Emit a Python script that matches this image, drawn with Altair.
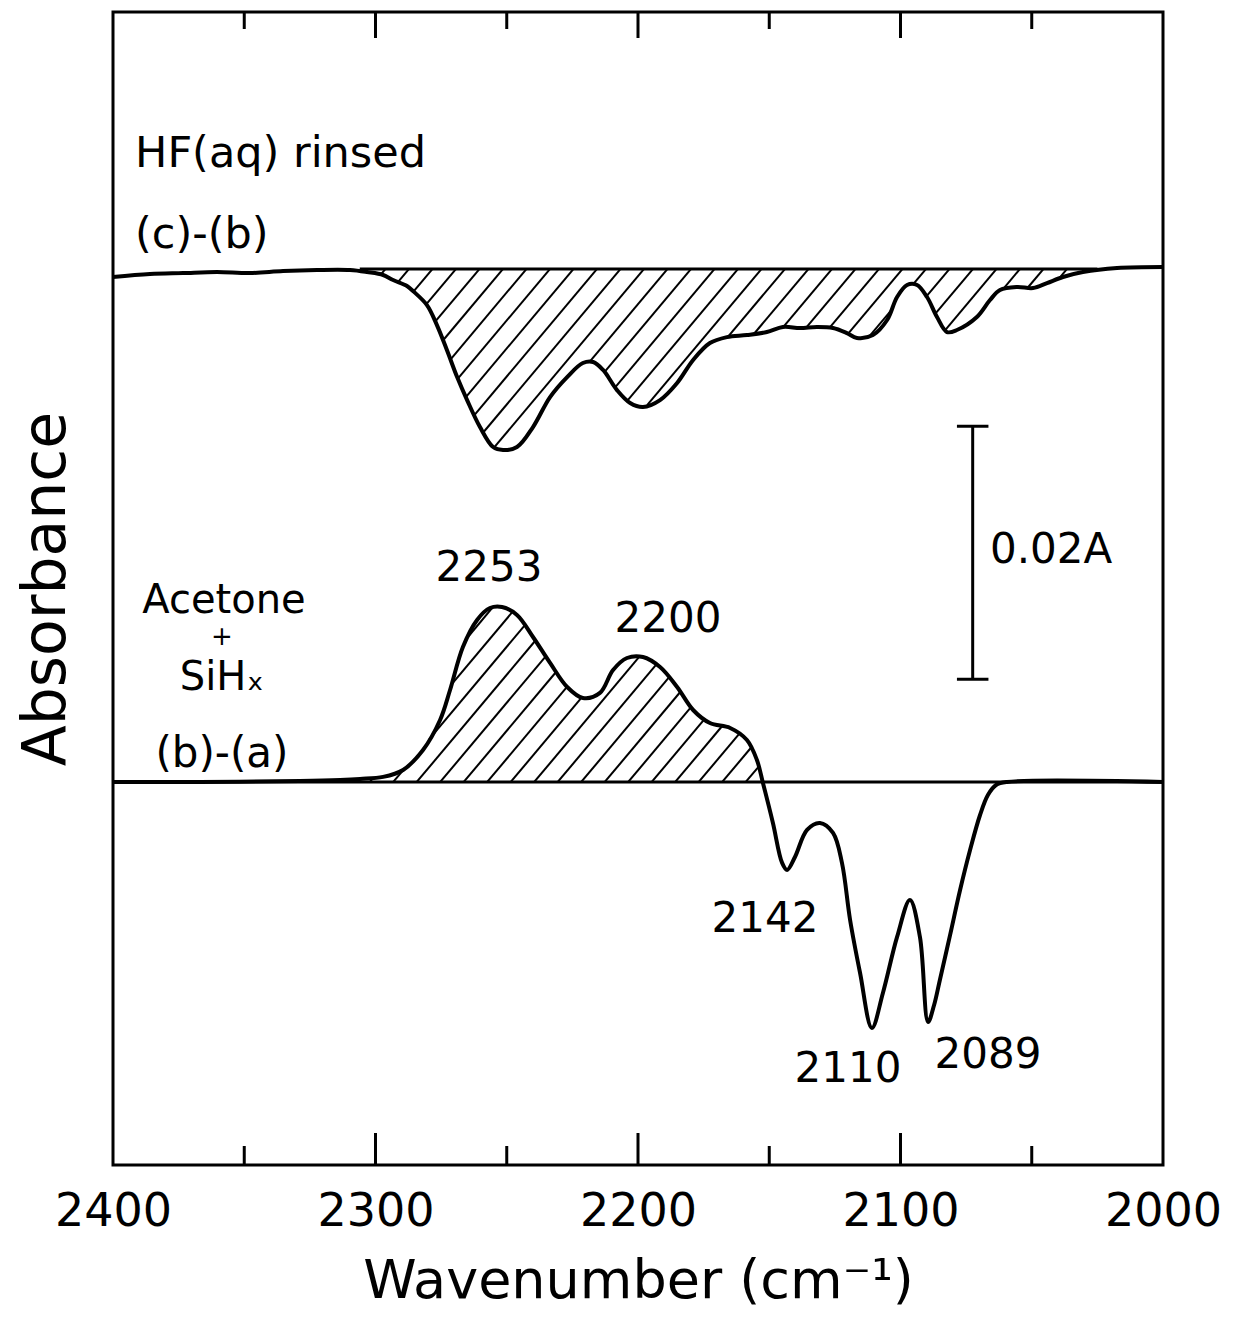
import numpy as np
import pandas as pd
import altair as alt

# ---------------- data ----------------
# wavenumber (cm-1) and absorbance change (A) relative to each trace's own baseline
BOTTOM_W = [2400, 2366.9, 2328.8, 2313.5, 2305.9, 2297.1, 2289.5, 2281.9, 2275.4, 2271.6,
            2266.7, 2261.3, 2256.4, 2251.8, 2246.1, 2240.0, 2233.5, 2227.0, 2221.0, 2214.5,
            2209.5, 2204.2, 2198.1, 2191.6, 2185.1, 2179.0, 2172.6, 2164.9, 2158.5, 2154.7,
            2152.4, 2148.6, 2145.1, 2143.2, 2140.2, 2135.6, 2130.7, 2125.7, 2122.3, 2119.2,
            2115.4, 2110.9, 2106.7, 2101.3, 2096.4, 2092.6, 2089.5, 2087.2, 2085.0, 2081.1,
            2077.3, 2073.5, 2069.7, 2066.7, 2063.6, 2059.4, 2000]
BOTTOM_A = [0.0, 0.0, 0.00008, 0.00016, 0.00024, 0.0004, 0.00095, 0.00253, 0.0049, 0.00727,
            0.01067, 0.01281, 0.01375, 0.01383, 0.0132, 0.01146, 0.00941, 0.00751, 0.00664, 0.00704,
            0.00885, 0.0098, 0.00988, 0.00909, 0.00751, 0.00569, 0.00466, 0.00427, 0.00332, 0.00174,
            -0.00008, -0.00324, -0.0064, -0.00696, -0.00593, -0.00379, -0.00324, -0.00403, -0.0064, -0.01091,
            -0.0151, -0.01945, -0.01668, -0.01225, -0.00933, -0.01225, -0.01897, -0.01763, -0.01565, -0.01209,
            -0.00854, -0.00538, -0.00261, -0.00103, -0.00024, 0.0, 0.0]

TOP_W = [2400, 2385.9, 2373.3, 2360.4, 2347.8, 2335.2, 2322.3, 2309.7, 2303.2, 2297.1,
         2293.3, 2288.0, 2285.7, 2280.4, 2276.6, 2272.8, 2268.9, 2265.1, 2260.2, 2255.2,
         2251.4, 2246.1, 2240.0, 2233.5, 2227.0, 2221.0, 2217.1, 2213.3, 2208.0, 2203.0,
         2198.1, 2191.6, 2185.1, 2179.0, 2172.6, 2166.1, 2158.5, 2150.9, 2144.8, 2138.3,
         2131.8, 2125.7, 2120.4, 2116.6, 2110.5, 2105.1, 2101.3, 2097.5, 2093.7, 2089.9,
         2086.1, 2082.3, 2078.5, 2070.9, 2065.9, 2062.1, 2055.6, 2049.5, 2044.2, 2038.1,
         2030.5, 2017.5, 2000]
TOP_A = [-0.00063, -0.0004, -0.00032, -0.00024, -0.00032, -0.00016, -0.00008, -0.00008, -0.00024, -0.00047,
         -0.00087, -0.00134, -0.00174, -0.00285, -0.00443, -0.0064, -0.00854, -0.01036, -0.01249, -0.01407,
         -0.01431, -0.01407, -0.01249, -0.01012, -0.00854, -0.00743, -0.00735, -0.00798, -0.00957, -0.01059,
         -0.01091, -0.01036, -0.00901, -0.00719, -0.00585, -0.00538, -0.00522, -0.00498, -0.00458, -0.00466,
         -0.00458, -0.00466, -0.00506, -0.00545, -0.00522, -0.00403, -0.00221, -0.00126, -0.00126, -0.00221,
         -0.00379, -0.00498, -0.00482, -0.00379, -0.00245, -0.00166, -0.00142, -0.0015, -0.00111, -0.00063,
         -0.00024, 0.00008, 0.00016]

X_LABEL_VALUES = [2400, 2300, 2200, 2100, 2000]
INNER_TICKS_MAJOR = [2300, 2200, 2100]
INNER_TICKS_MINOR = [2350, 2250, 2150, 2050]

# trace offsets / scale bar (absorbance units)
OFFSET_TOP = 0.07083
OFFSET_BOTTOM = 0.03028
SCALEBAR_W = 2072.5
SCALEBAR_LOW = 0.0384
SCALEBAR_LEN = 0.02
SCALEBAR_CAP = 6.0

# hatched ranges (cm-1)
TOP_HATCH = (2025, 2305)
BOTTOM_HATCH = (2150, 2302)
TOP_BASELINE = (2025, 2306)

# annotations: text, wavenumber, absorbance (baseline), font size
ANN_LEFT = [
    ("HF(aq) rinsed", 2391.6, 0.0789, 43),
    ("(c)-(b)", 2391.6, 0.0725, 43),
    ("0.02A", 2065.9, 0.0476, 42),
]
ANN_CENTER = [
    ("Acetone", 2357.7, 0.0436, 40),
    ("+", 2358.5, 0.04111, 26),
    ("SiH\u2093", 2358.5, 0.03755, 40),
    ("(b)-(a)", 2358.5, 0.0315, 42),
    ("2253", 2256.8, 0.0462, 42),
    ("2200", 2188.6, 0.0421, 42),
    ("2142", 2151.6, 0.0184, 42),
    ("2110", 2120.0, 0.0066, 42),
    ("2089", 2066.7, 0.0077, 42),
]

# ---------------- layout ----------------
W, H = 1050, 1153
Y_MAX = 0.09115
X_MIN, X_MAX = 2000, 2400
PX_PER_W = W / (X_MAX - X_MIN)
PX_PER_A = H / Y_MAX
HATCH_SPACING = 23.5
HATCH_ANGLE = 50.0
FONT = "DejaVu Sans"


def hatch_segments(ws, vals, w_lo, w_hi, sign, offset):
    ws = np.asarray(ws, float)
    vals = np.asarray(vals, float)
    X = (X_MAX - ws) * PX_PER_W
    Y = vals * PX_PER_A
    tanv = np.tan(np.radians(HATCH_ANGLE))
    x_lo = (X_MAX - w_hi) * PX_PER_W
    x_hi = (X_MAX - w_lo) * PX_PER_W
    xs = np.arange(x_lo, x_hi, 0.25)
    f = np.interp(xs, X, Y)
    segs = []
    for c in np.arange(x_lo - 400, x_hi + 400, HATCH_SPACING):
        yl = (xs - c) * tanv
        if sign > 0:
            inside = (yl >= 0) & (yl <= f)
        else:
            inside = (yl <= 0) & (yl >= f)
        if not inside.any():
            continue
        m = np.concatenate([[0], inside.astype(int), [0]])
        d = np.diff(m)
        starts = np.where(d == 1)[0]
        ends = np.where(d == -1)[0] - 1
        for s, e in zip(starts, ends):
            if xs[e] - xs[s] < 1.0:
                continue
            segs.append({
                "w": X_MAX - xs[s] / PX_PER_W, "a": yl[s] / PX_PER_A + offset,
                "w2": X_MAX - xs[e] / PX_PER_W, "a2": yl[e] / PX_PER_A + offset,
            })
    return segs


hatch = pd.DataFrame(
    hatch_segments(TOP_W, TOP_A, TOP_HATCH[0], TOP_HATCH[1], -1, OFFSET_TOP)
    + hatch_segments(BOTTOM_W, BOTTOM_A, BOTTOM_HATCH[0], BOTTOM_HATCH[1], 1, OFFSET_BOTTOM)
)

traces = pd.concat([
    pd.DataFrame({"w": TOP_W, "a": np.array(TOP_A) + OFFSET_TOP, "series": "top",
                  "i": range(len(TOP_W))}),
    pd.DataFrame({"w": BOTTOM_W, "a": np.array(BOTTOM_A) + OFFSET_BOTTOM, "series": "bottom",
                  "i": range(len(BOTTOM_W))}),
])

baselines = pd.DataFrame({
    "w": [X_MAX, TOP_BASELINE[1]], "w2": [X_MIN, TOP_BASELINE[0]],
    "a": [OFFSET_BOTTOM, OFFSET_TOP],
})

xs = alt.Scale(domain=[X_MIN, X_MAX], reverse=True, nice=False, zero=False)
ys = alt.Scale(domain=[0, Y_MAX], nice=False, zero=False)

X_AXIS = alt.Axis(
    values=X_LABEL_VALUES, title="Wavenumber (cm\u207b\u00b9)", format="d",
    ticks=False, tickSize=0, domain=False, grid=False, labelFlush=False,
    labelFontSize=46, labelFont=FONT, labelColor="black", labelPadding=24,
    titleFont=FONT, titleFontSize=54, titleFontWeight="normal", titleColor="black",
    titlePadding=20, labelOverlap=False)
Y_AXIS = alt.Axis(
    title="Absorbance", labels=False, ticks=False, domain=False, grid=False,
    titleFont=FONT, titleFontSize=60, titleFontWeight="normal", titleColor="black",
    titlePadding=36)

xx = alt.X("w:Q", scale=xs, axis=X_AXIS)
yy = alt.Y("a:Q", scale=ys, axis=Y_AXIS)

line_layer = alt.Chart(traces).mark_line(
    color="black", strokeWidth=4, interpolate="catmull-rom", strokeJoin="round"
).encode(x=xx, y=yy, detail="series:N", order="i:Q")

baseline_layer = alt.Chart(baselines).mark_rule(color="black", strokeWidth=3).encode(
    x=xx, x2="w2:Q", y=yy)

hatch_layer = alt.Chart(hatch).mark_rule(color="black", strokeWidth=2).encode(
    x=xx, x2="w2:Q", y=yy, y2="a2:Q")

sb = pd.DataFrame({"w": [SCALEBAR_W], "a": [SCALEBAR_LOW], "a2": [SCALEBAR_LOW + SCALEBAR_LEN]})
sb_caps = pd.DataFrame({"w": [SCALEBAR_W + SCALEBAR_CAP] * 2, "w2": [SCALEBAR_W - SCALEBAR_CAP] * 2,
                        "a": [SCALEBAR_LOW, SCALEBAR_LOW + SCALEBAR_LEN]})
sb_layer = alt.Chart(sb).mark_rule(color="black", strokeWidth=3).encode(x=xx, y=yy, y2="a2:Q")
sb_cap_layer = alt.Chart(sb_caps).mark_rule(color="black", strokeWidth=3).encode(x=xx, x2="w2:Q", y=yy)

maj = pd.DataFrame({"w": INNER_TICKS_MAJOR})
mnr = pd.DataFrame({"w": INNER_TICKS_MINOR})
tick_layers = [
    alt.Chart(maj).mark_rule(color="black", strokeWidth=3).encode(x=xx, y=alt.value(0), y2=alt.value(26)),
    alt.Chart(mnr).mark_rule(color="black", strokeWidth=3).encode(x=xx, y=alt.value(0), y2=alt.value(17)),
    alt.Chart(maj).mark_rule(color="black", strokeWidth=3).encode(x=xx, y=alt.value(H), y2=alt.value(H - 32)),
    alt.Chart(mnr).mark_rule(color="black", strokeWidth=3).encode(x=xx, y=alt.value(H), y2=alt.value(H - 19)),
]

ann_l = pd.DataFrame(ANN_LEFT, columns=["t", "w", "a", "s"])
ann_c = pd.DataFrame(ANN_CENTER, columns=["t", "w", "a", "s"])
txt_l = alt.Chart(ann_l).mark_text(align="left", baseline="alphabetic", font=FONT, color="black").encode(
    x=xx, y=yy, text="t:N", size=alt.Size("s:Q", scale=None, legend=None))
txt_c = alt.Chart(ann_c).mark_text(align="center", baseline="alphabetic", font=FONT, color="black").encode(
    x=xx, y=yy, text="t:N", size=alt.Size("s:Q", scale=None, legend=None))

chart = alt.layer(
    hatch_layer, baseline_layer, line_layer, sb_layer, sb_cap_layer, *tick_layers, txt_l, txt_c
).properties(
    width=W, height=H,
    autosize=alt.AutoSizeParams(type="none"),
    padding={"left": 105, "top": 4, "right": 70, "bottom": 150},
    background="white",
).configure_view(stroke="black", strokeWidth=3)

chart.save("out.html", embed_options={"renderer": "svg", "actions": False})
